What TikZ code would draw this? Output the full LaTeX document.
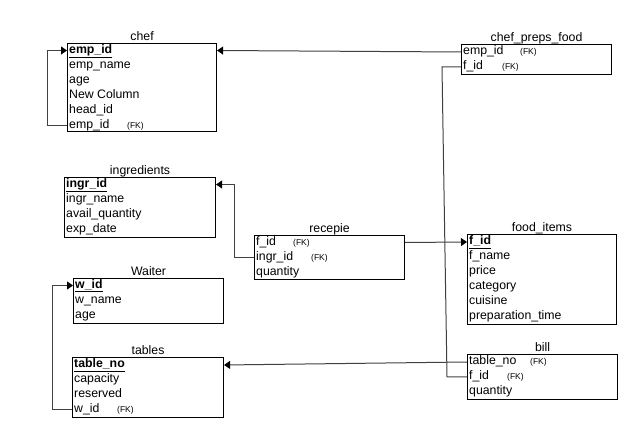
\documentclass[tikz,border=0pt]{standalone}
\usepackage{fontspec}
\setmainfont{Liberation Sans}
\usetikzlibrary{positioning,calc,arrows.meta}

\newcommand\pk[1]{\textbf{\underline{#1}}}
\newcommand\fkcol[2]{\makebox[#2][l]{#1}{\fontsize{8.5}{9}\selectfont(FK)}}

\tikzset{
  tbl/.style={draw=black, line width=1.1pt, anchor=north west, inner sep=0pt},
  col/.style={anchor=west, inner xsep=2pt, inner ysep=0pt, text height=9pt, text depth=3pt, font=\fontsize{12.3}{14}\selectfont},
  ttl/.style={anchor=base, inner sep=0pt, font=\fontsize{12.3}{14}\selectfont},
  link/.style={draw=black!75, line width=1pt},
  ref/.style={link, -{Triangle[length=6pt,width=8pt,color=black]}},
}

\begin{document}
\begin{tikzpicture}[x=1pt,y=-1pt]
  \useasboundingbox (0,0) rectangle (643,443);

  % chef
  \node[tbl, minimum width=149pt, minimum height=88pt] (chef) at (67,43) {};
  \node[ttl] at ($(chef.north)+(0,-2)$) {chef};
  \foreach \txt [count=\i] in {\pk{emp\_id}, emp\_name, age, New Column, head\_id, \fkcol{emp\_id}{58pt}}
    \node[col] (chef-\i) at (67,50.5+15*\i-15) {\txt};

  % chef_preps_food
  \node[tbl, minimum width=150pt, minimum height=30pt] (cpf) at (461,44) {};
  \node[ttl] at ($(cpf.north)+(0,-2)$) {chef\_preps\_food};
  \foreach \txt [count=\i] in {\fkcol{emp\_id}{57pt}, \fkcol{f\_id}{39pt}}
    \node[col] (cpf-\i) at (461,52+15*\i-15) {\txt};

  % ingredients
  \node[tbl, minimum width=151pt, minimum height=60pt] (ingr) at (64,177) {};
  \node[ttl] at ($(ingr.north)+(0,-2)$) {ingredients};
  \foreach \txt [count=\i] in {\pk{ingr\_id}, ingr\_name, avail\_quantity, exp\_date}
    \node[col] (ingr-\i) at (64,184.5+15*\i-15) {\txt};

  % recepie
  \node[tbl, minimum width=150pt, minimum height=44pt] (recepie) at (254,235) {};
  \node[ttl] at ($(recepie.north)+(0,-2)$) {recepie};
  \foreach \txt [count=\i] in {\fkcol{f\_id}{37pt}, \fkcol{ingr\_id}{55pt}, quantity}
    \node[col] (recepie-\i) at (254,242.5+15*\i-15) {\txt};

  % food_items
  \node[tbl, minimum width=149pt, minimum height=90pt] (food) at (467,234) {};
  \node[ttl] at ($(food.north)+(0,-2)$) {food\_items};
  \foreach \txt [count=\i] in {\pk{f\_id}, f\_name, price, category, cuisine, preparation\_time}
    \node[col] (food-\i) at (467,242+15*\i-15) {\txt};

  % Waiter
  \node[tbl, minimum width=150pt, minimum height=45pt] (waiter) at (73,278) {};
  \node[ttl] at ($(waiter.north)+(0,-2)$) {Waiter};
  \foreach \txt [count=\i] in {\pk{w\_id}, w\_name, age}
    \node[col] (waiter-\i) at (73,285.5+15*\i-15) {\txt};

  % tables
  \node[tbl, minimum width=151pt, minimum height=60pt] (tables) at (72,357) {};
  \node[ttl] at ($(tables.north)+(0,-2)$) {tables};
  \foreach \txt [count=\i] in {\pk{table\_no}, capacity, reserved, \fkcol{w\_id}{43pt}}
    \node[col] (tables-\i) at (72,365+15*\i-15) {\txt};

  % bill
  \node[tbl, minimum width=150pt, minimum height=45pt] (bill) at (467,354) {};
  \node[ttl] at ($(bill.north)+(0,-2)$) {bill};
  \foreach \txt [count=\i] in {\fkcol{table\_no}{61pt}, \fkcol{f\_id}{38pt}, quantity}
    \node[col] (bill-\i) at (467,362+15*\i-15) {\txt};

  % relations
  \draw[ref] (chef-6.west) -- ++(-20,0) |- (chef-1.west);
  \draw[ref] (cpf-1.west) -- (chef-1 -| chef.east);
  \draw[link] (cpf-2.west) -- ++(-19,0) -- ($(bill-2.west)+(-20,0)$) -- (bill-2.west);
  \draw[ref] (recepie-2.west) -- ++(-20,0) |- (ingr-1 -| ingr.east);
  \draw[ref] (recepie-1 -| recepie.east) -- (food-1.west);
  \draw[ref] (tables-4.west) -- ++(-20,0) |- (waiter-1.west);
  \draw[ref] (bill-1.west) -- (tables-1 -| tables.east);
\end{tikzpicture}
\end{document}
